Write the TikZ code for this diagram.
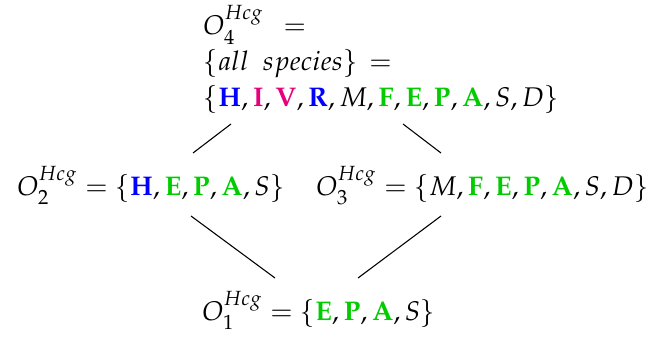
\documentclass[tikz,border=0pt]{standalone}
\usepackage[T1]{fontenc}
\usepackage{mathpazo}
\usepackage{xcolor}
\usepackage{tikz}
\usetikzlibrary{positioning,calc}
\definecolor{hcgblue}{RGB}{0,0,255}
\definecolor{hcgpink}{RGB}{230,0,126}
\definecolor{hcggreen}{RGB}{0,204,0}
\newcommand{\sB}[1]{\textcolor{hcgblue}{\mathbf{#1}}}
\newcommand{\sP}[1]{\textcolor{hcgpink}{\mathbf{#1}}}
\newcommand{\sG}[1]{\textcolor{hcggreen}{\mathbf{#1}}}
\newcommand{\Ohcg}[1]{O_{#1}^{Hcg}}

\begin{document}
\begin{tikzpicture}[
  x=0.3704pt, y=-0.3704pt,
  lvl/.style={inner sep=0pt, anchor=base west},
  link/.style={draw=black, line width=0.4pt},
]
\useasboundingbox (0,0) rectangle (662,338);

%============================ levels ============================
\node[lvl, align=left, anchor=north west] (o4) at (203,5)
  {$\Ohcg{4}\hspace{0.45em}=$\\[1.3pt]
   $\{all\hspace{0.5em}species\}\hspace{0.15em}=$\\[1.3pt]
   $\{\sB{H},\sP{I},\sP{V},\sB{R},M,\sG{F},\sG{E},\sG{P},\sG{A},S,D\}$};

\node[lvl] (o2) at (17,195)  {$\Ohcg{2}=\{\sB{H},\sG{E},\sG{P},\sG{A},S\}$};
\node[lvl] (o3) at (316,195) {$\Ohcg{3}=\{M,\sG{F},\sG{E},\sG{P},\sG{A},S,D\}$};
\node[lvl] (o1) at (202,320) {$\Ohcg{1}=\{\sG{E},\sG{P},\sG{A},S\}$};

%============================ links ============================
\draw[link] ([shift={(28,119)}]o4.north west)  -- ([shift={(176,-42)}]o2.base west);
\draw[link] ([shift={(200,119)}]o4.north west) -- ([shift={(125,-42)}]o3.base west);
\draw[link] ([shift={(174,21)}]o2.base west)   -- ([shift={(73,-42)}]o1.base west);
\draw[link] ([shift={(125,21)}]o3.base west)   -- ([shift={(156,-42)}]o1.base west);

\end{tikzpicture}
\end{document}
